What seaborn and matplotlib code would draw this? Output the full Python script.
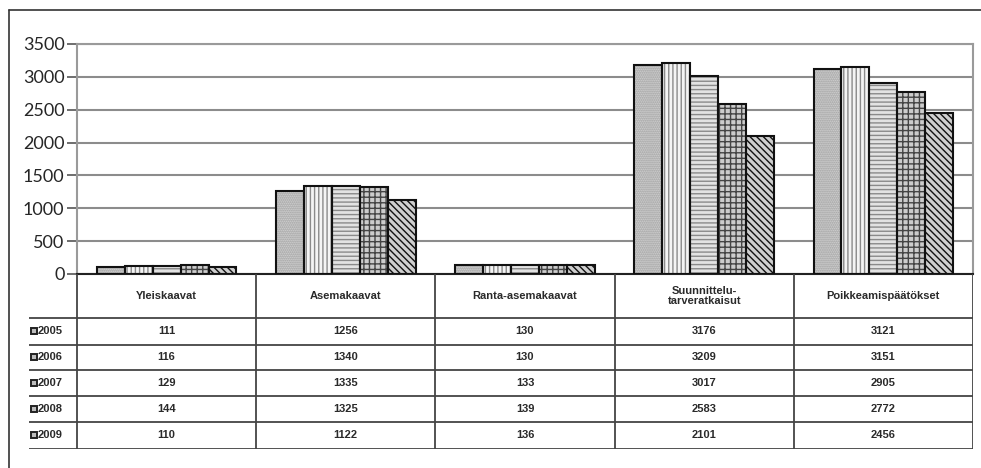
import matplotlib
matplotlib.use("Agg")
import matplotlib.pyplot as plt
import pandas as pd
import seaborn as sns
from matplotlib.patches import Rectangle

categories = ["Yleiskaavat", "Asemakaavat", "Ranta-asemakaavat",
              "Suunnittelu-\ntarveratkaisut", "Poikkeamispäätökset"]
years = ["2005", "2006", "2007", "2008", "2009"]
v2005 = [111, 1256, 130, 3176, 3121]
v2006 = [116, 1340, 130, 3209, 3151]
v2007 = [129, 1335, 133, 3017, 2905]
v2008 = [144, 1325, 139, 2583, 2772]
v2009 = [110, 1122, 136, 2101, 2456]
yticks = [0, 500, 1000, 1500, 2000, 2500, 3000, 3500]

# fill, hatch, hatch colour per year
STYLES = {
    "2005": ("#dadada", "........", "#959595"),
    "2006": ("#f4f4f4", "||||", "#8a8a8a"),
    "2007": ("#e2e2e2", "----", "#8a8a8a"),
    "2008": ("#cccccc", "+++", "#444444"),
    "2009": ("#cfcfcf", "\\\\\\\\\\", "#111111"),
}

values = [v2005, v2006, v2007, v2008, v2009]
rows = []
for yr, vals in zip(years, values):
    for cat, v in zip(categories, vals):
        rows.append({"cat": cat, "year": yr, "value": v})
df = pd.DataFrame(rows)

sns.set_style("white")
plt.rcParams["hatch.linewidth"] = 1.0

W, H = 981, 468
fig = plt.figure(figsize=(W / 100, H / 100), dpi=100)

# outer frame (left and top only)
fig.add_artist(plt.Line2D([9 / W, 9 / W], [0, 1 - 10 / H], color="#333333", lw=1.2))
fig.add_artist(plt.Line2D([9 / W, 1], [1 - 10 / H, 1 - 10 / H], color="#333333", lw=1.2))

x0, x1 = 77 / W, 973 / W
y_zero, y_top = 1 - 274 / H, 1 - 44 / H
ax = fig.add_axes([x0, y_zero, x1 - x0, y_top - y_zero])

sns.barplot(data=df, x="cat", y="value", hue="year", hue_order=years,
            order=categories, width=0.78, gap=0, ax=ax, legend=False,
            saturation=1, err_kws={"linewidth": 0})

for yr, cont in zip(years, ax.containers):
    face, hatch, hcol = STYLES[yr]
    for p in cont:
        p.set_facecolor(face)
        p.set_hatch(hatch)
        p.set_edgecolor(hcol)
        p.set_linewidth(0)
        ax.add_patch(Rectangle(p.get_xy(), p.get_width(), p.get_height(),
                               fill=False, edgecolor="#111111", lw=1.5, zorder=3))

ax.set_ylim(0, 3500)
ax.set_xlim(-0.5, len(categories) - 0.5)
ax.set_yticks(yticks)
ax.set_yticklabels([str(t) for t in yticks], fontsize=13, family="Lato")
ax.set_xticks([])
ax.set_xlabel("")
ax.set_ylabel("")
ax.yaxis.grid(True, color="#8c8c8c", lw=1.5)
ax.set_axisbelow(True)
ax.tick_params(axis="y", left=True, length=7, width=1.2, color="#555555", pad=2)
for s in ["left", "right", "top"]:
    ax.spines[s].set_color("#9a9a9a")
    ax.spines[s].set_linewidth(1.5)
ax.spines["bottom"].set_color("#222222")
ax.spines["bottom"].set_linewidth(1.5)

# data table below the chart
tx0 = 29 / W
tb = 1 - 449 / H
tab = fig.add_axes([tx0, tb, x1 - tx0, y_zero - tb])
label_w = (77 - 29) / ((973 - 77) / len(categories))
tab.set_xlim(-label_w, len(categories))
tab.set_ylim(175, 0)
tab.axis("off")

row_edges = [0, 44, 71, 96, 122, 148, 175]
line_kw = dict(color="#444444", lw=1.3)
for yb in row_edges[1:]:
    tab.plot([-label_w, len(categories)], [yb, yb], **line_kw)
for xc in range(len(categories) + 1):
    tab.plot([xc, xc], [0, 175], **line_kw)

tfont = dict(family="Liberation Sans", fontsize=8, fontweight="bold",
             color="#2a2a2a", ha="center", va="center")
for i, cat in enumerate(categories):
    tab.text(i + 0.5, 22, cat, linespacing=1.0, **tfont)
for r, (yr, vals) in enumerate(zip(years, values)):
    yc = (row_edges[r + 1] + row_edges[r + 2]) / 2
    for i, v in enumerate(vals):
        tab.text(i + 0.5, yc, str(v), **tfont)
    kx = -label_w + 0.01
    tab.add_patch(Rectangle((kx, yc - 3.5), 0.035, 6, facecolor="#bdbdbd",
                            edgecolor="#222222", lw=1.4))
    tab.text(kx + 0.04, yc, yr, family="Liberation Sans", fontsize=8,
             fontweight="bold", color="#2a2a2a", ha="left", va="center")

fig.savefig("out.png", dpi=100)
